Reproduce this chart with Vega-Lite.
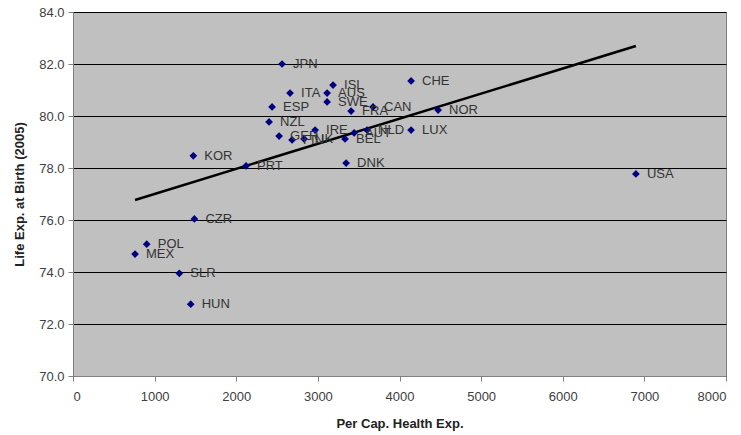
{
  "$schema": "https://vega.github.io/schema/vega-lite/v6.json",
  "autosize": "none",
  "width": 653,
  "height": 364,
  "padding": {"left": 73, "top": 12, "right": 15, "bottom": 59},
  "background": "white",
  "config": {
    "view": {"fill": "#C0C0C0", "stroke": "#808080", "strokeWidth": 1},
    "font": "Liberation Sans",
    "axis": {"labelFont": "Liberation Sans", "titleFont": "Liberation Sans"}
  },
  "datasets": {
    "pts": [
      {"code": "JPN", "exp": 2561, "life": 82.0},
      {"code": "ISL", "exp": 3186, "life": 81.19},
      {"code": "ITA", "exp": 2659, "life": 80.88},
      {"code": "AUS", "exp": 3113, "life": 80.88},
      {"code": "CHE", "exp": 4142, "life": 81.35},
      {"code": "SWE", "exp": 3113, "life": 80.54},
      {"code": "ESP", "exp": 2439, "life": 80.35},
      {"code": "FRA", "exp": 3407, "life": 80.19},
      {"code": "CAN", "exp": 3676, "life": 80.35},
      {"code": "NOR", "exp": 4473, "life": 80.23},
      {"code": "NZL", "exp": 2402, "life": 79.77},
      {"code": "IRE", "exp": 2966, "life": 79.46},
      {"code": "LUX", "exp": 4142, "life": 79.46},
      {"code": "GER", "exp": 2525, "life": 79.23},
      {"code": "FIN", "exp": 2684, "life": 79.08},
      {"code": "UK", "exp": 2831, "life": 79.12},
      {"code": "BEL", "exp": 3333, "life": 79.12},
      {"code": "AUT", "exp": 3444, "life": 79.35},
      {"code": "NLD", "exp": 3603, "life": 79.46},
      {"code": "DNK", "exp": 3346, "life": 78.19},
      {"code": "PRT", "exp": 2120, "life": 78.08},
      {"code": "KOR", "exp": 1474, "life": 78.47},
      {"code": "CZR", "exp": 1487, "life": 76.04},
      {"code": "POL", "exp": 903, "life": 75.07},
      {"code": "MEX", "exp": 760, "life": 74.69},
      {"code": "SLR", "exp": 1303, "life": 73.95},
      {"code": "HUN", "exp": 1442, "life": 72.76},
      {"code": "USA", "exp": 6896, "life": 77.77}
    ],
    "trend": [
      {"exp": 760, "life": 76.77},
      {"exp": 6896, "life": 82.69}
    ]
  },
  "layer": [
    {
      "data": {"name": "trend"},
      "mark": {"type": "line", "color": "black", "strokeWidth": 2.5},
      "encoding": {
        "x": {"field": "exp", "type": "quantitative",
          "scale": {"domain": [0, 8000], "nice": false},
          "axis": {"values": [0,1000,2000,3000,4000,5000,6000,7000,8000], "format": "d", "grid": false,
            "title": "Per Cap. Health Exp.", "titleFontWeight": "bold", "titleFontSize": 13, "titlePadding": 14,
            "labelFontSize": 13, "labelColor": "#404040", "labelPadding": 9, "domainColor": "#808080", "tickColor": "#808080", "tickSize": 5, "titleColor": "#222222"}},
        "y": {"field": "life", "type": "quantitative",
          "scale": {"domain": [70, 84], "nice": false, "zero": false},
          "axis": {"values": [70,72,74,76,78,80,82,84], "format": ".1f", "grid": true, "gridColor": "black", "gridOpacity": 1, "gridWidth": 1,
            "title": "Life Exp. at Birth (2005)", "titleFontWeight": "bold", "titleFontSize": 13, "titlePadding": 12,
            "labelFontSize": 13, "labelColor": "#404040", "labelPadding": 4, "domainColor": "#808080", "tickColor": "#808080", "tickSize": 5, "titleColor": "#222222"}}
      }
    },
    {
      "data": {"name": "pts"},
      "mark": {"type": "point", "shape": "diamond", "filled": true, "color": "#000080", "size": 60, "opacity": 1},
      "encoding": {
        "x": {"field": "exp", "type": "quantitative"},
        "y": {"field": "life", "type": "quantitative"}
      }
    },
    {
      "data": {"name": "pts"},
      "mark": {"type": "text", "align": "left", "baseline": "middle", "dx": 11, "fontSize": 13, "color": "#333333"},
      "encoding": {
        "x": {"field": "exp", "type": "quantitative"},
        "y": {"field": "life", "type": "quantitative"},
        "text": {"field": "code"}
      }
    }
  ]
}
